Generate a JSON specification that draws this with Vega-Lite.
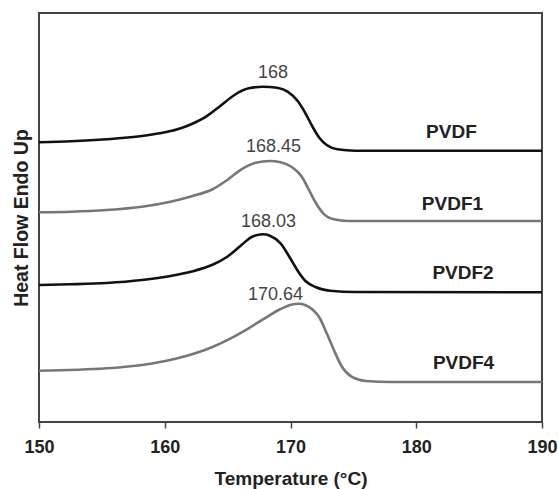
{
  "$schema": "https://vega.github.io/schema/vega-lite/v6.json",
  "autosize": {"type": "none"},
  "padding": {"left": 39, "top": 13, "right": 16, "bottom": 67},
  "width": 503,
  "height": 409,
  "config": {
    "font": "Liberation Sans",
    "view": {"stroke": "#444", "strokeWidth": 2},
    "background": "white"
  },
  "datasets": {
    "curves": [
      {"s": "PVDF", "t": 150, "h": 280.7}, {"s": "PVDF", "t": 152.54, "h": 281.7}, {"s": "PVDF", "t": 155.37, "h": 283.7}, {"s": "PVDF", "t": 158.19, "h": 287}, {"s": "PVDF", "t": 159.6, "h": 289.7}, {"s": "PVDF", "t": 161.02, "h": 293.7}, {"s": "PVDF", "t": 162.15, "h": 299}, {"s": "PVDF", "t": 163.28, "h": 306.3}, {"s": "PVDF", "t": 164.41, "h": 317}, {"s": "PVDF", "t": 165.54, "h": 328}, {"s": "PVDF", "t": 166.67, "h": 334.7}, {"s": "PVDF", "t": 167.8, "h": 336.3}, {"s": "PVDF", "t": 168.93, "h": 335.3}, {"s": "PVDF", "t": 169.77, "h": 331.3}, {"s": "PVDF", "t": 170.62, "h": 321.3}, {"s": "PVDF", "t": 171.19, "h": 309.7}, {"s": "PVDF", "t": 171.75, "h": 296.3}, {"s": "PVDF", "t": 172.32, "h": 284.7}, {"s": "PVDF", "t": 172.88, "h": 278}, {"s": "PVDF", "t": 173.73, "h": 273.7}, {"s": "PVDF", "t": 175.14, "h": 272.3}, {"s": "PVDF", "t": 190, "h": 272.3},
      {"s": "PVDF1", "t": 150, "h": 210.7}, {"s": "PVDF1", "t": 152.54, "h": 211.3}, {"s": "PVDF1", "t": 155.37, "h": 213}, {"s": "PVDF1", "t": 158.19, "h": 216.3}, {"s": "PVDF1", "t": 160.45, "h": 221.3}, {"s": "PVDF1", "t": 162.15, "h": 226.8}, {"s": "PVDF1", "t": 163.84, "h": 234}, {"s": "PVDF1", "t": 164.97, "h": 243}, {"s": "PVDF1", "t": 166.1, "h": 253.7}, {"s": "PVDF1", "t": 167.23, "h": 260.3}, {"s": "PVDF1", "t": 168.36, "h": 262}, {"s": "PVDF1", "t": 169.21, "h": 260.7}, {"s": "PVDF1", "t": 170.06, "h": 256.3}, {"s": "PVDF1", "t": 170.9, "h": 246.3}, {"s": "PVDF1", "t": 171.47, "h": 233}, {"s": "PVDF1", "t": 172.03, "h": 219.7}, {"s": "PVDF1", "t": 172.6, "h": 209.7}, {"s": "PVDF1", "t": 173.45, "h": 203.7}, {"s": "PVDF1", "t": 174.58, "h": 202}, {"s": "PVDF1", "t": 190, "h": 202},
      {"s": "PVDF2", "t": 150, "h": 138}, {"s": "PVDF2", "t": 152.54, "h": 138.7}, {"s": "PVDF2", "t": 155.37, "h": 140}, {"s": "PVDF2", "t": 158.19, "h": 143}, {"s": "PVDF2", "t": 160.45, "h": 147}, {"s": "PVDF2", "t": 162.15, "h": 151.5}, {"s": "PVDF2", "t": 163.84, "h": 158.5}, {"s": "PVDF2", "t": 164.97, "h": 166.3}, {"s": "PVDF2", "t": 166.1, "h": 178}, {"s": "PVDF2", "t": 166.95, "h": 186.3}, {"s": "PVDF2", "t": 167.8, "h": 188.7}, {"s": "PVDF2", "t": 168.36, "h": 187.3}, {"s": "PVDF2", "t": 169.21, "h": 179.7}, {"s": "PVDF2", "t": 170.06, "h": 163}, {"s": "PVDF2", "t": 170.62, "h": 151.3}, {"s": "PVDF2", "t": 171.19, "h": 142}, {"s": "PVDF2", "t": 172.03, "h": 135.7}, {"s": "PVDF2", "t": 173.16, "h": 132.3}, {"s": "PVDF2", "t": 175.14, "h": 131}, {"s": "PVDF2", "t": 190, "h": 130.7},
      {"s": "PVDF4", "t": 150, "h": 52.3}, {"s": "PVDF4", "t": 155.37, "h": 54.7}, {"s": "PVDF4", "t": 158.19, "h": 58}, {"s": "PVDF4", "t": 161.02, "h": 64.7}, {"s": "PVDF4", "t": 163.84, "h": 76.3}, {"s": "PVDF4", "t": 165.25, "h": 84.7}, {"s": "PVDF4", "t": 166.67, "h": 94.7}, {"s": "PVDF4", "t": 168.08, "h": 105.7}, {"s": "PVDF4", "t": 169.21, "h": 114}, {"s": "PVDF4", "t": 170.06, "h": 118.3}, {"s": "PVDF4", "t": 170.64, "h": 119.2}, {"s": "PVDF4", "t": 171.2, "h": 117.8}, {"s": "PVDF4", "t": 171.75, "h": 113.5}, {"s": "PVDF4", "t": 172.32, "h": 105}, {"s": "PVDF4", "t": 172.88, "h": 89.7}, {"s": "PVDF4", "t": 173.45, "h": 73}, {"s": "PVDF4", "t": 174.01, "h": 58}, {"s": "PVDF4", "t": 174.86, "h": 46.3}, {"s": "PVDF4", "t": 175.99, "h": 42}, {"s": "PVDF4", "t": 177.97, "h": 41}, {"s": "PVDF4", "t": 190, "h": 41}
    ],
    "peaks": [
      {"label": "168", "t": 168.6, "h": 350},
      {"label": "168.45", "t": 168.65, "h": 276.5},
      {"label": "168.03", "t": 168.25, "h": 201},
      {"label": "170.64", "t": 168.8, "h": 128}
    ],
    "names": [
      {"label": "PVDF", "t": 182.8, "h": 291.3},
      {"label": "PVDF1", "t": 182.88, "h": 219},
      {"label": "PVDF2", "t": 183.72, "h": 150.5},
      {"label": "PVDF4", "t": 183.76, "h": 60}
    ]
  },
  "layer": [
    {
      "data": {"name": "curves"},
      "mark": {"type": "line", "interpolate": "monotone", "strokeWidth": 2.6, "clip": true},
      "encoding": {
        "x": {"field": "t", "type": "quantitative", "scale": {"domain": [150, 190], "nice": false, "zero": false},
          "axis": {"title": "Temperature (°C)", "values": [150, 160, 170, 180, 190], "grid": false, "domain": false, "labelFlush": false,
            "tickColor": "#444", "tickSize": 6, "tickWidth": 1.5, "labelFontSize": 18, "labelFontWeight": "bold", "labelColor": "#222", "labelPadding": 10,
            "titleFontSize": 19, "titleFontWeight": "bold", "titleColor": "#222", "titlePadding": 13}},
        "y": {"field": "h", "type": "quantitative", "scale": {"domain": [1, 410], "nice": false, "zero": false},
          "axis": {"title": "Heat Flow Endo Up", "grid": false, "domain": false, "ticks": false, "labels": false,
            "titleFontSize": 19.5, "titleFontWeight": "bold", "titleColor": "#222", "titlePadding": 8}},
        "color": {"field": "s", "type": "nominal", "scale": {"domain": ["PVDF", "PVDF1", "PVDF2", "PVDF4"], "range": ["#111111", "#777777", "#111111", "#777777"]}, "legend": null},
        "detail": {"field": "s"}
      }
    },
    {
      "data": {"name": "peaks"},
      "mark": {"type": "text", "fontSize": 18, "color": "#444", "align": "center", "baseline": "middle"},
      "encoding": {
        "x": {"field": "t", "type": "quantitative"},
        "y": {"field": "h", "type": "quantitative"},
        "text": {"field": "label"}
      }
    },
    {
      "data": {"name": "names"},
      "mark": {"type": "text", "fontSize": 19, "fontWeight": "bold", "color": "#222", "align": "center", "baseline": "middle"},
      "encoding": {
        "x": {"field": "t", "type": "quantitative"},
        "y": {"field": "h", "type": "quantitative"},
        "text": {"field": "label"}
      }
    }
  ]
}
